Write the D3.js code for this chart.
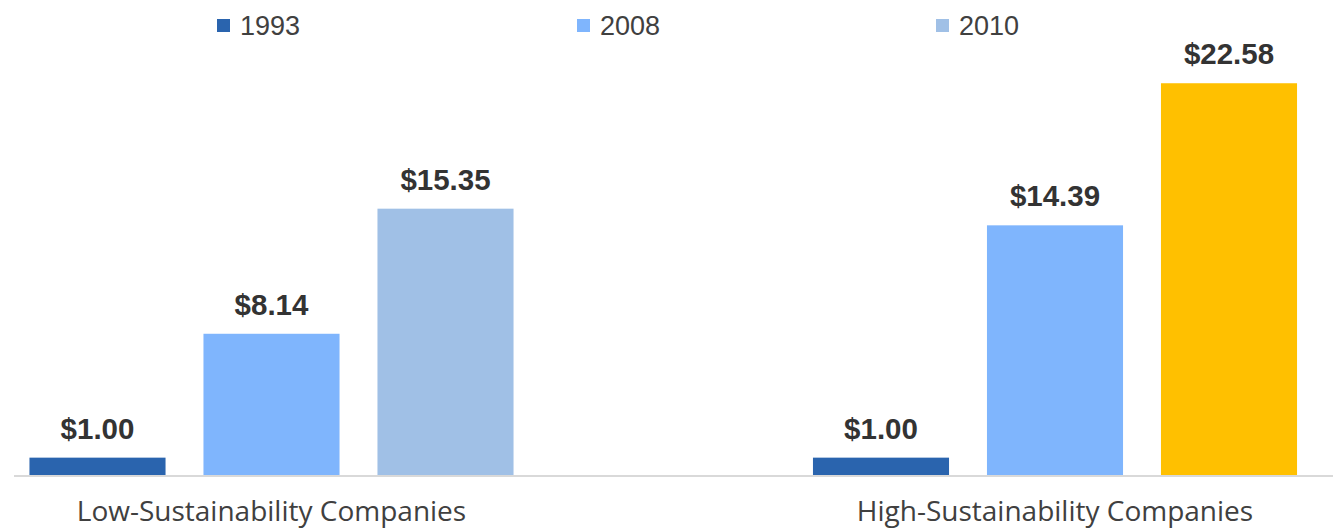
<!DOCTYPE html>
<html>
<head>
<meta charset="utf-8">
<script src="https://cdn.jsdelivr.net/npm/d3@7"></script>
<style>
  html, body { margin: 0; padding: 0; background: #fff; }
  svg { display: block; }
</style>
</head>
<body>
<script>
const categories = ["Low-Sustainability Companies", "High-Sustainability Companies"];
const years = ["1993", "2008", "2010"];
const values1993 = [1.00, 1.00];
const values2008 = [8.14, 14.39];
const values2010 = [15.35, 22.58];
const legendColors = ["#2a64ae", "#7fb5fd", "#a0c0e6"];
const highlightColor = "#ffc000";

const W = 1333, H = 530;
const svg = d3.select("body").append("svg").attr("width", W).attr("height", H);

const baseline = 475;
const y = d3.scaleLinear().domain([0, 25]).range([baseline, baseline - 25 * 17.35]);

const x0 = d3.scaleBand().domain(categories).range([-120.25, 1446.75]).padding(0);
const groupW = 522;
const x1 = d3.scaleBand().domain(years)
  .range([(x0.bandwidth() - groupW) / 2, (x0.bandwidth() + groupW) / 2])
  .paddingInner(0.218).paddingOuter(0.109);

const data = [];
categories.forEach((c, i) => {
  [values1993, values2008, values2010].forEach((arr, j) => {
    data.push({cat: c, year: years[j], value: arr[i],
      color: (i === 1 && j === 2) ? highlightColor : legendColors[j]});
  });
});

// axis line
svg.append("line")
  .attr("x1", 14).attr("x2", W).attr("y1", baseline + 1).attr("y2", baseline + 1)
  .attr("stroke", "#d9d9d9").attr("stroke-width", 2);

const g = svg.append("g");
g.selectAll("rect").data(data).join("rect")
  .attr("x", d => x0(d.cat) + x1(d.year))
  .attr("width", x1.bandwidth())
  .attr("y", d => y(d.value))
  .attr("height", d => baseline - y(d.value))
  .attr("fill", d => d.color);

g.selectAll("text.val").data(data).join("text")
  .attr("class", "val")
  .attr("x", d => x0(d.cat) + x1(d.year) + x1.bandwidth() / 2)
  .attr("y", d => y(d.value) - 19)
  .attr("text-anchor", "middle")
  .attr("font-family", "'Liberation Sans', Arial, sans-serif")
  .attr("font-weight", "bold")
  .attr("font-size", 29.5)
  .attr("fill", "#333333")
  .text(d => "$" + d3.format(".2f")(d.value));

// category labels
svg.selectAll("text.cat").data(categories).join("text")
  .attr("class", "cat")
  .attr("x", d => x0(d) + x0.bandwidth() / 2)
  .attr("y", 521)
  .attr("text-anchor", "middle")
  .attr("font-family", "'Open Sans', sans-serif")
  .attr("font-size", 28)
  .attr("fill", "#404040")
  .text(d => d);

// legend
const legendX = [217, 577, 936];
const lg = svg.selectAll("g.leg").data(years).join("g")
  .attr("class", "leg")
  .attr("transform", (d, i) => `translate(${legendX[i]},0)`);
lg.append("rect").attr("x", 0).attr("y", 19).attr("width", 13).attr("height", 13)
  .attr("fill", (d, i) => legendColors[i]);
lg.append("text").attr("x", 23).attr("y", 35)
  .attr("font-family", "'Liberation Sans', Arial, sans-serif")
  .attr("font-size", 27)
  .attr("fill", "#404040")
  .text(d => d);
</script>
</body>
</html>
